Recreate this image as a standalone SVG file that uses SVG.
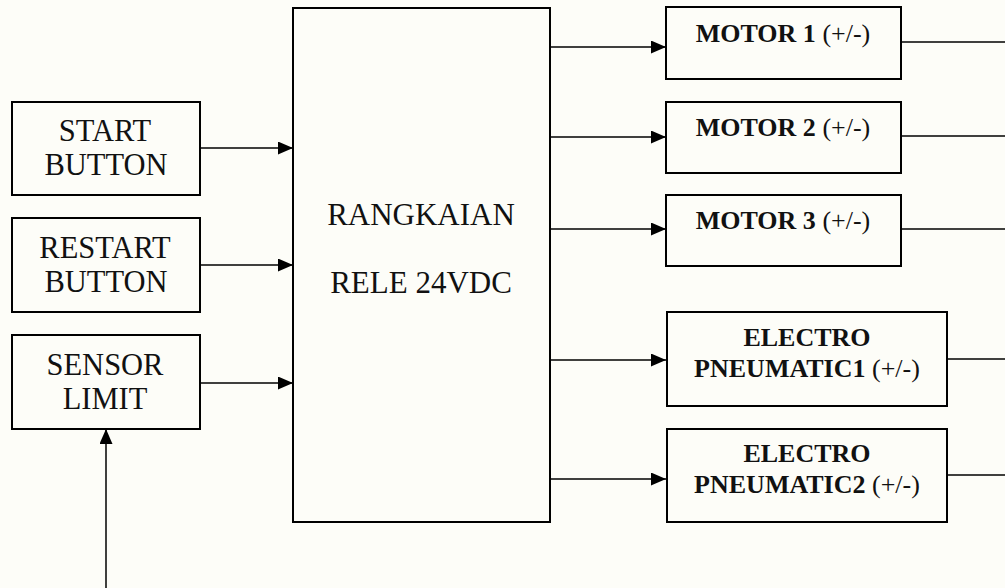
<svg xmlns="http://www.w3.org/2000/svg" width="1005" height="588" viewBox="0 0 1005 588">
<style>
.box{fill:none;stroke:#000;stroke-width:2}
.ln{stroke:#000;stroke-width:1.5;fill:none}
.t{font-family:"Liberation Serif","Times New Roman",serif;font-size:30.5px;fill:#111;text-anchor:middle}
.tm{font-family:"Liberation Serif","Times New Roman",serif;font-size:31px;fill:#111;text-anchor:middle}
.b{font-family:"Liberation Serif","Times New Roman",serif;font-size:26px;font-weight:bold;fill:#111;text-anchor:middle}
</style>
<defs>
<marker id="ah" markerUnits="userSpaceOnUse" markerWidth="16" markerHeight="14" refX="15" refY="6.5" orient="auto">
<path d="M0,0 L15,6.5 L0,13 Z" fill="#000"/>
</marker>
</defs>
<rect width="1005" height="588" fill="#fdfdf8"/>
<g id="connectors">
<line class="ln" x1="200" y1="148" x2="293" y2="148" marker-end="url(#ah)"/>
<line class="ln" x1="200" y1="265" x2="293" y2="265" marker-end="url(#ah)"/>
<line class="ln" x1="200" y1="383" x2="293" y2="383" marker-end="url(#ah)"/>
<line class="ln" x1="106" y1="588" x2="106" y2="429" marker-end="url(#ah)"/>
<line class="ln" x1="550" y1="47" x2="666" y2="47" marker-end="url(#ah)"/>
<line class="ln" x1="550" y1="137" x2="666" y2="137" marker-end="url(#ah)"/>
<line class="ln" x1="550" y1="229" x2="666" y2="229" marker-end="url(#ah)"/>
<line class="ln" x1="550" y1="360" x2="666" y2="360" marker-end="url(#ah)"/>
<line class="ln" x1="550" y1="479" x2="666" y2="479" marker-end="url(#ah)"/>
<line class="ln" x1="901" y1="42" x2="1005" y2="42"/>
<line class="ln" x1="901" y1="136" x2="1005" y2="136"/>
<line class="ln" x1="901" y1="229" x2="1005" y2="229"/>
<line class="ln" x1="947" y1="359" x2="1005" y2="359"/>
<line class="ln" x1="947" y1="475" x2="1005" y2="475"/>
</g>
<g id="start">
<rect class="box" x="12" y="102" width="188" height="93"/>
<text class="t" x="105" y="141">START</text>
<text class="t" x="106" y="175">BUTTON</text>
</g>
<g id="restart">
<rect class="box" x="12" y="218" width="188" height="94"/>
<text class="t" x="105" y="258">RESTART</text>
<text class="t" x="106" y="292">BUTTON</text>
</g>
<g id="sensor">
<rect class="box" x="12" y="335" width="188" height="94"/>
<text class="t" x="105" y="375">SENSOR</text>
<text class="t" x="105" y="409">LIMIT</text>
</g>
<g id="rele">
<rect class="box" x="293" y="8" width="257" height="514"/>
<text class="tm" x="421" y="225">RANGKAIAN</text>
<text class="tm" x="421" y="293">RELE 24VDC</text>
</g>
<g id="motor1">
<rect class="box" x="666" y="7" width="235" height="72"/>
<text class="b" x="783" y="42">MOTOR 1 <tspan font-weight="normal">(+/-)</tspan></text>
</g>
<g id="motor2">
<rect class="box" x="666" y="102" width="235" height="71"/>
<text class="b" x="783" y="136">MOTOR 2 <tspan font-weight="normal">(+/-)</tspan></text>
</g>
<g id="motor3">
<rect class="box" x="666" y="195" width="235" height="71"/>
<text class="b" x="783" y="229">MOTOR 3 <tspan font-weight="normal">(+/-)</tspan></text>
</g>
<g id="electro1">
<rect class="box" x="667" y="312" width="280" height="94"/>
<text class="b" x="807" y="346">ELECTRO</text>
<text class="b" x="807" y="377">PNEUMATIC1 <tspan font-weight="normal">(+/-)</tspan></text>
</g>
<g id="electro2">
<rect class="box" x="667" y="429" width="280" height="93"/>
<text class="b" x="807" y="462">ELECTRO</text>
<text class="b" x="807" y="493">PNEUMATIC2 <tspan font-weight="normal">(+/-)</tspan></text>
</g>
</svg>
